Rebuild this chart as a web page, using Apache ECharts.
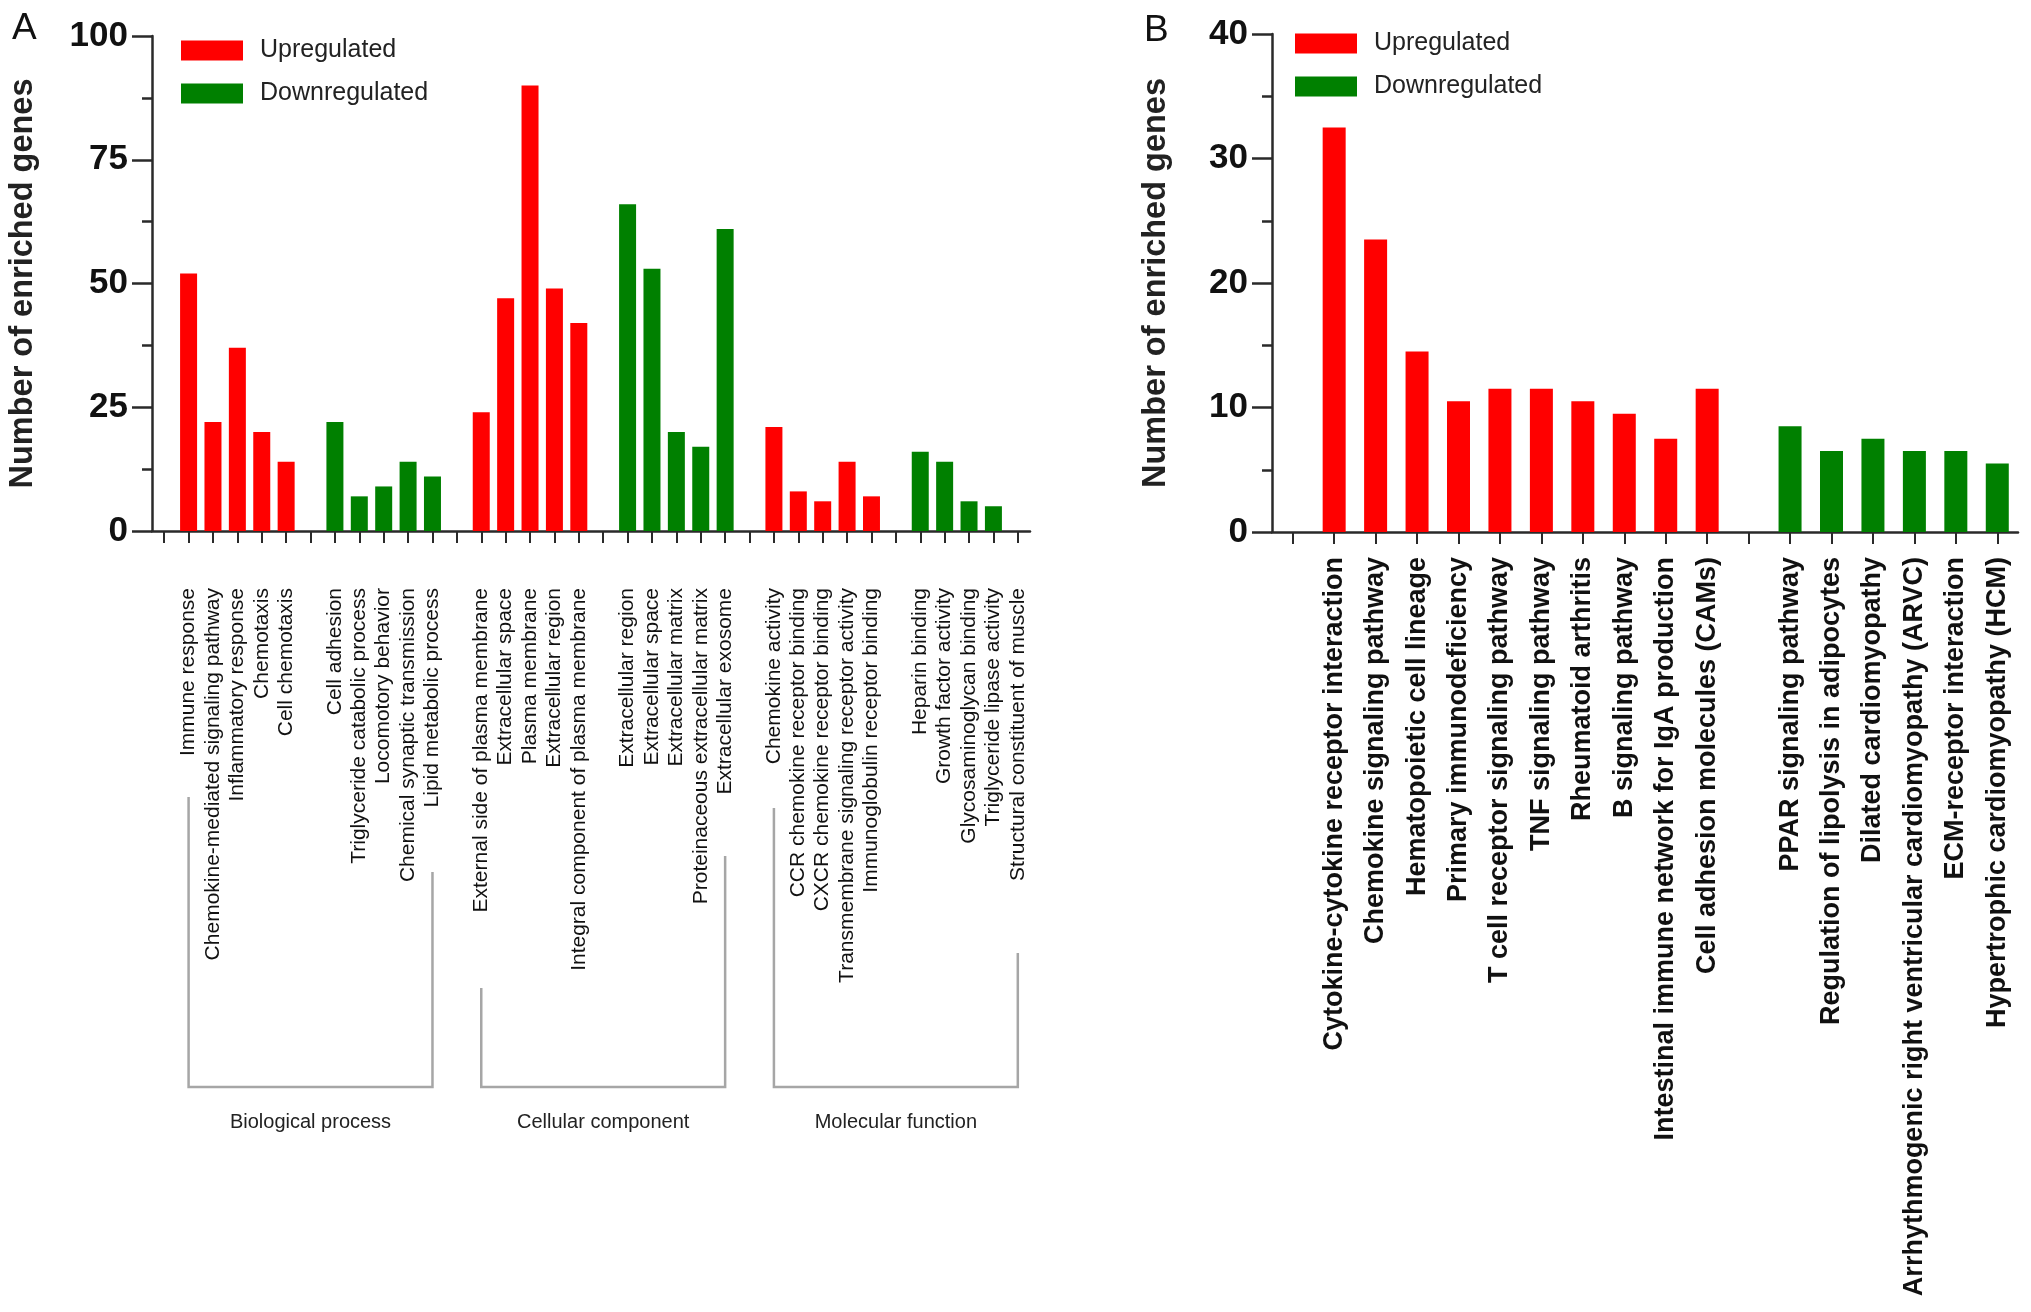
<!DOCTYPE html>
<html><head><meta charset="utf-8">
<script src="https://cdn.jsdelivr.net/npm/echarts@6/dist/echarts.min.js"></script>
<style>html,body{margin:0;padding:0;background:#fff}#c{width:2031px;height:1312px}</style>
</head><body><div id="c"></div>
<script>
// ---------- Panel A (GO) data ----------
const bpUpLabels = ['Immune response','Chemokine-mediated signaling pathway','Inflammatory response','Chemotaxis','Cell chemotaxis'];
const bpUpValues = [52, 22, 37, 20, 14];
const bpDownLabels = ['Cell adhesion','Triglyceride catabolic process','Locomotory behavior','Chemical synaptic transmission','Lipid metabolic process'];
const bpDownValues = [22, 7, 9, 14, 11];
const ccUpLabels = ['External side of plasma membrane','Extracellular space','Plasma membrane','Extracellular region','Integral component of plasma membrane'];
const ccUpValues = [24, 47, 90, 49, 42];
const ccDownLabels = ['Extracellular region','Extracellular space','Extracellular matrix','Proteinaceous extracellular matrix','Extracellular exosome'];
const ccDownValues = [66, 53, 20, 17, 61];
const mfUpLabels = ['Chemokine activity','CCR chemokine receptor binding','CXCR chemokine receptor binding','Transmembrane signaling receptor activity','Immunoglobulin receptor binding'];
const mfUpValues = [21, 8, 6, 14, 7];
const mfDownLabels = ['Heparin binding','Growth factor activity','Glycosaminoglycan binding','Triglyceride lipase activity','Structural constituent of muscle'];
const mfDownValues = [16, 14, 6, 5, 0];
const goGroupNames = ['Biological process','Cellular component','Molecular function'];
const yTicksA = [0, 25, 50, 75, 100];

// ---------- Panel B (KEGG) data ----------
const keggUpLabels = ['Cytokine-cytokine receptor interaction','Chemokine signaling pathway','Hematopoietic cell lineage','Primary immunodeficiency','T cell receptor signaling pathway','TNF signaling pathway','Rheumatoid arthritis','B signaling pathway','Intestinal immune network for IgA production','Cell adhesion molecules (CAMs)'];
const keggUpValues = [32.5, 23.5, 14.5, 10.5, 11.5, 11.5, 10.5, 9.5, 7.5, 11.5];
const keggDownLabels = ['PPAR signaling pathway','Regulation of lipolysis in adipocytes','Dilated cardiomyopathy','Arrhythmogenic right ventricular cardiomyopathy (ARVC)','ECM-receptor interaction','Hypertrophic cardiomyopathy (HCM)'];
const keggDownValues = [8.5, 6.5, 7.5, 6.5, 6.5, 5.5];
const yTicksB = [0, 10, 20, 30, 40];

// ---------- build category lists ----------
const groupsA = [
  [bpUpLabels, bpUpValues, 'up'], [bpDownLabels, bpDownValues, 'down'],
  [ccUpLabels, ccUpValues, 'up'], [ccDownLabels, ccDownValues, 'down'],
  [mfUpLabels, mfUpValues, 'up'], [mfDownLabels, mfDownValues, 'down']
];
const catsA = [], upA = [], downA = [], rangesA = [];
groupsA.forEach(([labs, vals, kind]) => {
  catsA.push(''); upA.push('-'); downA.push('-');
  const start = catsA.length;
  labs.forEach((l, i) => {
    catsA.push(l);
    upA.push(kind === 'up' ? vals[i] : '-');
    downA.push(kind === 'down' ? vals[i] : '-');
  });
  rangesA.push([start, catsA.length - 1]);
});
const catsB = [], upB = [], downB = [];
catsB.push(''); upB.push('-'); downB.push('-');
keggUpLabels.forEach((l, i) => { catsB.push(l); upB.push(keggUpValues[i]); downB.push('-'); });
catsB.push(''); upB.push('-'); downB.push('-');
keggDownLabels.forEach((l, i) => { catsB.push(l); upB.push('-'); downB.push(keggDownValues[i]); });

const FONT = 'Liberation Sans, Arial, Helvetica, sans-serif';
const RED = '#ff0000', GREEN = '#008000', AX = '#2a2a2a';

function yAxis(gi, ticks, gap) {
  return {
    type: 'value', gridIndex: gi, min: ticks[0], max: ticks[ticks.length - 1],
    interval: ticks[1] - ticks[0],
    name: 'Number of enriched genes', nameLocation: 'middle', nameGap: gap, nameRotate: 90,
    nameTextStyle: { fontFamily: FONT, fontSize: 32.5, fontWeight: 'bold', color: '#222' },
    axisLine: { show: true, lineStyle: { color: AX, width: 2.5 } },
    axisTick: { show: true, length: 20, lineStyle: { color: AX, width: 2.5 } },
    minorTick: { show: true, splitNumber: 2, length: 10, lineStyle: { color: AX, width: 2.5 } },
    splitLine: { show: false },
    axisLabel: { margin: 24, fontFamily: FONT, fontSize: 35, fontWeight: 'bold', color: '#111' }
  };
}
function xAxis(gi, cats, margin, fs, fw) {
  return {
    type: 'category', gridIndex: gi, data: cats,
    axisLine: { show: true, lineStyle: { color: AX, width: 2.5 } },
    axisTick: { show: true, alignWithLabel: true, length: 12, lineStyle: { color: AX, width: 2 } },
    axisLabel: { interval: 0, rotate: 90, margin: margin, fontFamily: FONT, fontSize: fs, fontWeight: fw, color: '#111' }
  };
}
const legendBase = {
  orient: 'vertical', itemWidth: 62, itemHeight: 20, itemGap: 18, icon: 'rect', padding: 0,
  textStyle: { fontFamily: FONT, fontSize: 25, color: '#222', lineHeight: 20, padding: [0, 0, 0, 12] },
  data: ['Upregulated', 'Downregulated'], selectedMode: false
};

const chart = echarts.init(document.getElementById('c'));
chart.setOption({
  animation: false,
  backgroundColor: '#fff',
  grid: [
    { left: 152, top: 36, width: 878, height: 495 },
    { left: 1272, top: 34, width: 746, height: 498 }
  ],
  legend: [
    Object.assign({}, legendBase, { left: 181, top: 38 }),
    Object.assign({}, legendBase, { left: 1295, top: 31 })
  ],
  xAxis: [xAxis(0, catsA, 57, 21, 'normal'), xAxis(1, catsB, 25, 27, 'bold')],
  yAxis: [yAxis(0, yTicksA, 112), yAxis(1, yTicksB, 99)],
  series: [
    { name: 'Upregulated', type: 'bar', xAxisIndex: 0, yAxisIndex: 0, data: upA, barWidth: 17, barGap: '-100%', itemStyle: { color: RED } },
    { name: 'Downregulated', type: 'bar', xAxisIndex: 0, yAxisIndex: 0, data: downA, barWidth: 17, barGap: '-100%', itemStyle: { color: GREEN } },
    { name: 'Upregulated', type: 'bar', xAxisIndex: 1, yAxisIndex: 1, data: upB, barWidth: 23, barGap: '-100%', itemStyle: { color: RED } },
    { name: 'Downregulated', type: 'bar', xAxisIndex: 1, yAxisIndex: 1, data: downB, barWidth: 23, barGap: '-100%', itemStyle: { color: GREEN } }
  ]
});

// brackets under GO labels (decoration positioned from the axis scale)
const bracketTops = [[797, 872], [988, 856], [808, 953]];
const bracketBottom = 1087;
const gfx = [
  { type: 'text', left: 12, top: 10, style: { text: 'A', fontFamily: FONT, fontSize: 37, fill: '#111' } },
  { type: 'text', left: 1144, top: 12, style: { text: 'B', fontFamily: FONT, fontSize: 37, fill: '#111' } }
];
for (let g = 0; g < 3; g++) {
  const x1 = chart.convertToPixel({ xAxisIndex: 0 }, rangesA[2 * g][0]);
  const x2 = chart.convertToPixel({ xAxisIndex: 0 }, rangesA[2 * g + 1][1]);
  gfx.push({
    type: 'polyline', silent: true,
    shape: { points: [[x1, bracketTops[g][0]], [x1, bracketBottom], [x2, bracketBottom], [x2, bracketTops[g][1]]] },
    style: { stroke: '#a6a6a6', lineWidth: 2.5, fill: null }
  });
  gfx.push({
    type: 'text', x: (x1 + x2) / 2, y: 1122, silent: true,
    style: { text: goGroupNames[g], fontFamily: FONT, fontSize: 20, fill: '#222', align: 'center', verticalAlign: 'middle' }
  });
}
chart.setOption({ graphic: gfx });
</script></body></html>
